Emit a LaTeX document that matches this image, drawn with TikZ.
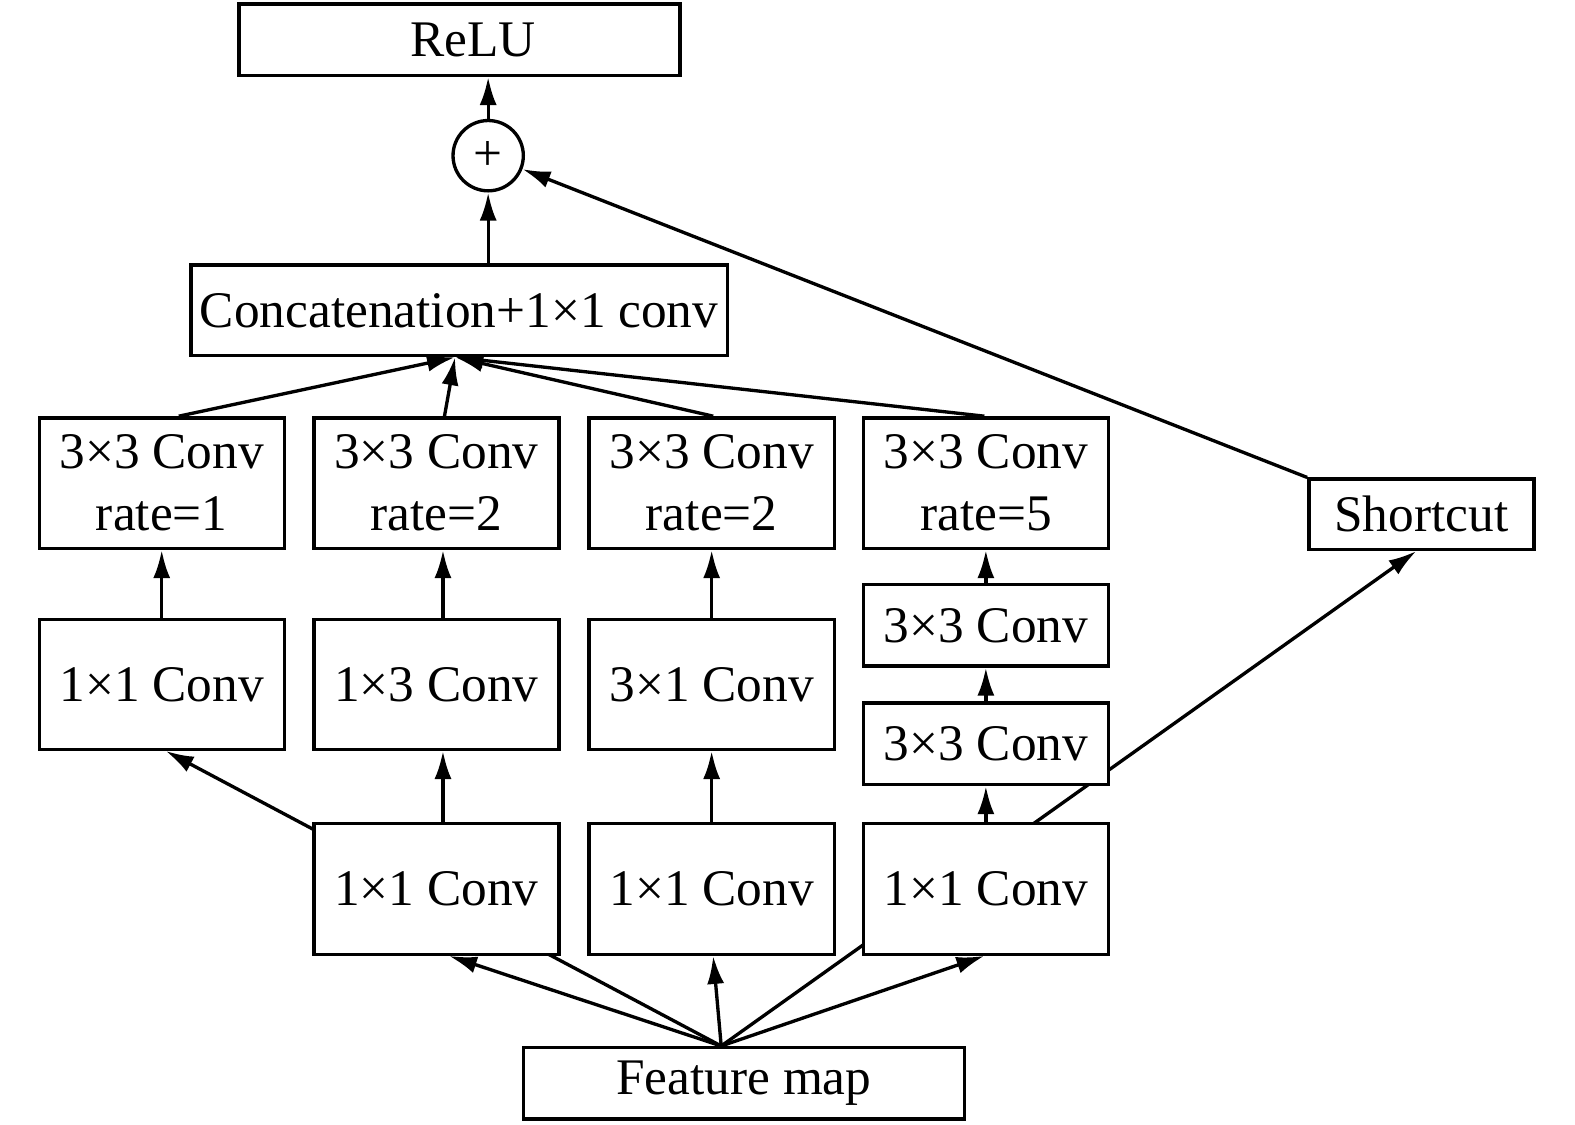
\documentclass[tikz,border=0pt]{standalone}
\usepackage{fontspec}
\setmainfont{Liberation Serif}
\usetikzlibrary{arrows.meta,backgrounds,calc}
\newlength\pu
\setlength\pu{0.01004cm}
\begin{document}
\begin{tikzpicture}[x=0.01004cm, y=-0.01004cm,
  box/.style={draw, line width=0.95pt, fill=white, inner sep=0pt, align=center,
    font=\fontsize{14.6}{17.6}\selectfont},
  arr/.style={line width=0.95pt, -{Latex[length=0.28cm, width=0.17cm]}}]
\useasboundingbox (0,0) rectangle (1568,1120);
% nodes
\node[box, minimum width=439\pu, minimum height=71\pu] (relu) at (457.5,39.5) {\hspace*{27\pu}ReLU};
\node[box, circle, minimum size=70\pu] (plus) at (486,155) {+};
\node[box, minimum width=534\pu, minimum height=90\pu] (cat) at (457,309) {Concatenation+1×1 conv};
\node[box, minimum width=244\pu, minimum height=130\pu] (r1) at (161,481) {3×3 Conv\\rate=1};
\node[box, minimum width=244\pu, minimum height=130\pu] (r2) at (434.5,481) {3×3 Conv\\rate=2};
\node[box, minimum width=244\pu, minimum height=130\pu] (r3) at (708.5,481) {3×3 Conv\\rate=2};
\node[box, minimum width=244\pu, minimum height=130\pu] (r4) at (981.5,481) {3×3 Conv\\rate=5};
\node[box, minimum width=244\pu, minimum height=129\pu] (m1) at (161,681.5) {1×1 Conv};
\node[box, minimum width=244\pu, minimum height=129\pu] (m2) at (434.5,681.5) {1×3 Conv};
\node[box, minimum width=244\pu, minimum height=129\pu] (m3) at (708.5,681.5) {3×1 Conv};
\node[box, minimum width=244\pu, minimum height=81\pu] (c4a) at (981.5,622.5) {3×3 Conv};
\node[box, minimum width=244\pu, minimum height=81\pu] (c4b) at (981.5,740.5) {3×3 Conv};
\node[box, minimum width=244\pu, minimum height=130\pu] (b1) at (434.5,885) {1×1 Conv};
\node[box, minimum width=244\pu, minimum height=130\pu] (b2) at (708.5,885) {1×1 Conv};
\node[box, minimum width=244\pu, minimum height=130\pu] (b3) at (981.5,885) {1×1 Conv};
\node[box, minimum width=439\pu, minimum height=71\pu] (fm) at (740.5,1078.5) {Feature map};
\node[box, minimum width=224\pu, minimum height=70\pu] (sc) at (1415,512) {Shortcut};
\coordinate (fmtop) at ([xshift=-22.5\pu]fm.north);
\coordinate (cattip) at ([xshift=-4\pu]cat.south);
% connectors
\begin{scope}[on background layer]
\draw[arr] (plus.north) -- (plus.north |- relu.south);
\draw[arr] (plus.south |- cat.north) -- (plus.south);
\draw[arr] (sc.north west) -- (plus);
\draw[arr] ([xshift=17\pu]r1.north) -- (cattip);
\draw[arr] ([xshift=8\pu]r2.north) -- (cattip);
\draw[arr] ([xshift=1.5\pu]r3.north) -- (cattip);
\draw[arr] ([xshift=-1.5\pu]r4.north) -- (cattip);
\draw[arr] (m1.north) -- (r1.south);
\draw[arr] ([xshift=6.5\pu]m2.north) -- ([xshift=6.5\pu]r2.south);
\draw[arr] (m3.north) -- (r3.south);
\draw[arr] (c4a.north) -- (r4.south);
\draw[arr] (c4b.north) -- (c4a.south);
\draw[arr] (b3.north) -- (c4b.south);
\draw[arr] ([xshift=6.5\pu]b1.north) -- ([xshift=6.5\pu]m2.south);
\draw[arr] (b2.north) -- (m3.south);
\draw[arr] (fmtop) -- ([xshift=4\pu]m1.south);
\draw[arr] (fmtop) -- ([xshift=12.5\pu]b1.south);
\draw[arr] (fmtop) -- ([xshift=1.5\pu]b2.south);
\draw[arr] (fmtop) -- ([xshift=-1.5\pu]b3.south);
\draw[arr] (fmtop) -- ([xshift=-5\pu]sc.south);
\end{scope}
\end{tikzpicture}
\end{document}
